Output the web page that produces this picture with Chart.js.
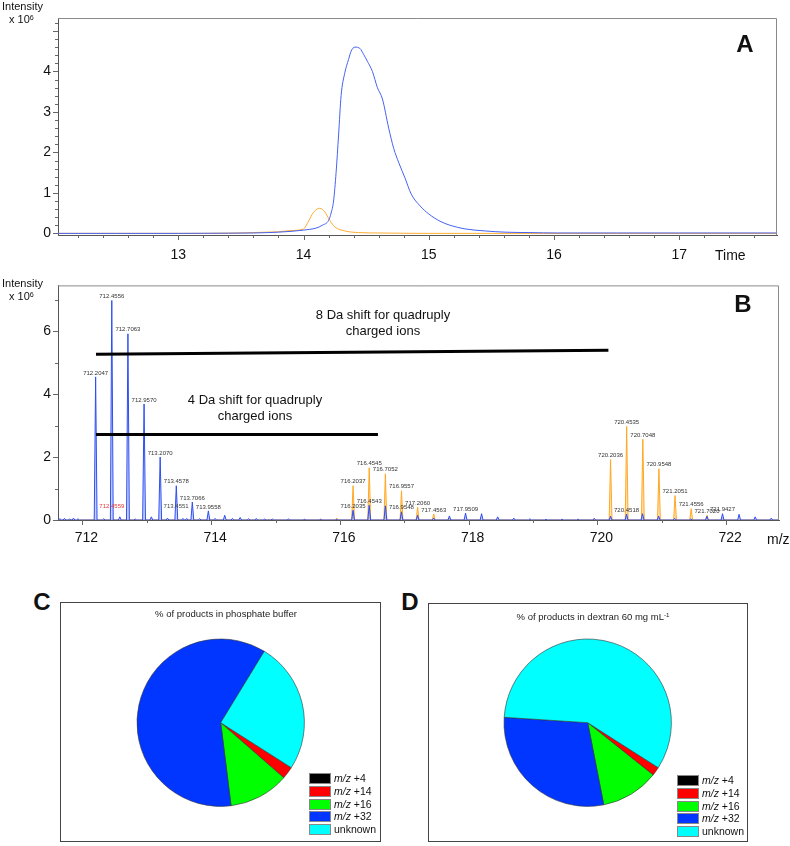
<!DOCTYPE html>
<html>
<head>
<meta charset="utf-8">
<script src="https://cdn.jsdelivr.net/npm/chart.js@4.4.1/dist/chart.umd.min.js"></script>
<style>
  body { margin: 0; background: #fff; width: 790px; height: 846px; position: relative; overflow: hidden;
         font-family: Arial, "Liberation Sans", sans-serif; color: #111; }
  canvas { position: absolute; }
  .t { position: absolute; white-space: nowrap; line-height: 1; transform: translate(0, -50%); }
  .c { transform: translate(-50%, -50%); text-align: center; }
  .panel { font-weight: bold; font-size: 24px; }
  .small { font-size: 11px; }
  .shift { font-size: 13px; line-height: 16px; }
  .frame { position: absolute; border: 1px solid #444; box-sizing: border-box; pointer-events: none; }
  .pietitle { font-size: 9.5px; color: #222; }
  .leg { position: absolute; font-size: 10.5px; color: #111; }
  .leg div { position: absolute; left: 0; width: 22px; height: 11px; border: 1px solid #888; box-sizing: border-box; }
  .leg span { position: absolute; left: 25px; line-height: 11px; white-space: nowrap; }
  sup { font-size: 65%; vertical-align: 0; position: relative; top: -0.45em; }
</style>
</head>
<body>
<canvas id="chrom" width="790" height="270" style="left:0;top:0"></canvas>
<canvas id="spec" width="790" height="290" style="left:0;top:270px"></canvas>
<canvas id="pieC" width="320" height="240" style="left:60px;top:602px"></canvas>
<canvas id="pieD" width="320" height="240" style="left:428px;top:602px"></canvas>

<div class="t small" style="left:2px;top:6px">Intensity</div>
<div class="t small" style="left:9px;top:20px">x 10<sup>6</sup></div>
<div class="t c panel" style="left:745px;top:44px">A</div>
<div class="t" style="left:715px;top:255px;font-size:14px">Time</div>

<div class="t small" style="left:2px;top:283px">Intensity</div>
<div class="t small" style="left:9px;top:297px">x 10<sup>6</sup></div>
<div class="t c panel" style="left:743px;top:304px">B</div>
<div class="t" style="left:767px;top:539px;font-size:14px">m/z</div>
<div class="t c shift" style="left:383px;top:323px">8 Da shift for quadruply<br>charged ions</div>
<div class="t c shift" style="left:255px;top:408px">4 Da shift for quadruply<br>charged ions</div>

<div class="t c panel" style="left:42px;top:602px">C</div>
<div class="frame" style="left:60px;top:602px;width:321px;height:240px"></div>
<div class="t c pietitle" style="left:226px;top:614px">% of products in phosphate buffer</div>
<div class="leg" id="legC" style="left:309px;top:773px"></div>

<div class="t c panel" style="left:410px;top:602px">D</div>
<div class="frame" style="left:428px;top:603px;width:320px;height:239px"></div>
<div class="t c pietitle" style="left:593px;top:617px">% of products in dextran 60 mg mL<sup>-1</sup></div>
<div class="leg" id="legD" style="left:677px;top:775px"></div>

<script>
// A: extracted ion chromatograms (time in min, intensity x 10^6)
const timeBlue = [12.04, 12.5, 13.0, 13.4, 13.6, 13.8, 13.9, 14.0, 14.05, 14.1, 14.15, 14.2, 14.22, 14.24, 14.26,
  14.28, 14.3, 14.33, 14.36, 14.38, 14.41, 14.45, 14.48, 14.51, 14.55, 14.59, 14.63, 14.68, 14.72, 14.76,
  14.81, 14.86, 14.93, 15.0, 15.09, 15.17, 15.29, 15.45, 15.61, 15.8, 16.03, 16.5, 17.0, 17.5, 17.78];
const intBlue = [0, 0, 0, 0.005, 0.01, 0.03, 0.05, 0.08, 0.1, 0.13, 0.2, 0.32, 0.5, 0.8, 1.5,
  2.43, 3.4, 3.97, 4.3, 4.5, 4.6, 4.57, 4.42, 4.25, 4.0, 3.6, 3.32, 2.6, 2.1, 1.75,
  1.37, 0.97, 0.68, 0.48, 0.3, 0.2, 0.11, 0.06, 0.03, 0.02, 0.01, 0.01, 0.01, 0.01, 0.01];
const timeOrange = [12.04, 13.0, 13.5, 13.7, 13.8, 13.9, 14.0, 14.04, 14.08, 14.13, 14.17, 14.21, 14.25, 14.33, 14.44, 14.6, 15.0, 17.78];
const intOrange = [0, 0, 0.01, 0.03, 0.04, 0.07, 0.11, 0.3, 0.52, 0.62, 0.53, 0.32, 0.16, 0.06, 0.02, 0.01, 0, 0];
const timeTicks = [13, 14, 15, 16, 17];
const intTicksA = [0, 1, 2, 3, 4];

// B: mass spectrum, peak m/z and height x 10^6
const mzBlue = [711.65, 711.72, 711.80, 711.86, 711.93, 712.2047, 712.33, 712.4556, 712.58, 712.7063,
  712.82, 712.9570, 713.07, 713.2070, 713.32, 713.4578, 713.56, 713.62, 713.7066, 713.82,
  713.9558, 714.06, 714.21, 714.33, 714.45, 714.58, 714.70, 714.83, 714.95, 715.2,
  715.45, 715.7, 715.95, 716.2035, 716.4543, 716.7052, 716.9548, 717.206, 717.456, 717.70,
  717.9509, 718.20, 718.45, 718.70, 718.95, 719.2, 719.45, 719.7, 719.95, 720.2036,
  720.4518, 720.70, 720.95, 721.20, 721.45, 721.70, 721.9427, 722.20, 722.45, 722.70];
const hBlue = [0.04, 0.05, 0.03, 0.06, 0.04, 4.55, 0.04, 6.98, 0.1, 5.92,
  0.03, 3.69, 0.1, 2.0, 0.06, 1.09, 0.05, 0.05, 0.57, 0.04,
  0.29, 0.05, 0.15, 0.05, 0.08, 0.04, 0.05, 0.03, 0.03, 0.03,
  0.02, 0.02, 0.02, 0.31, 0.47, 0.45, 0.26, 0.15, 0.06, 0.13,
  0.22, 0.2, 0.1, 0.06, 0.04, 0.02, 0.02, 0.02, 0.05, 0.12,
  0.19, 0.2, 0.12, 0.05, 0.03, 0.12, 0.2, 0.18, 0.1, 0.06];
const mzOrange = [714.9, 715.45, 715.7, 715.95, 716.2037, 716.4545, 716.7052, 716.9557, 717.2060, 717.4563,
  717.70, 719.2, 719.45, 719.7, 719.95, 720.2036, 720.4535, 720.7048, 720.9548, 721.2051,
  721.4556, 721.7020, 721.95];
const hOrange = [0.02, 0.02, 0.03, 0.06, 1.09, 1.66, 1.47, 0.93, 0.41, 0.19,
  0.05, 0.02, 0.03, 0.03, 0.06, 1.92, 2.98, 2.57, 1.63, 0.78,
  0.36, 0.15, 0.05];
const labelsBlue = ['712.2047', '712.4556', '712.7063', '712.9570', '713.2070', '713.4578', '713.7066', '713.9558',
  '716.2035', '716.4543', '716.9548', '717.9509', '720.4518', '721.9427'];
const labelsOrange = ['716.2037', '716.4545', '716.7052', '716.9557', '717.2060', '717.4563',
  '720.2036', '720.4535', '720.7048', '720.9548', '721.2051', '721.4556', '721.7020'];
const labelsOther = ['712.4559', '713.4551'];
const labelsOtherHeight = [0.3, 0.3];
const mzTicks = [712, 714, 716, 718, 720, 722];
const intTicksB = [0, 2, 4, 6];
// shift bars: [from m/z, to m/z, height at start, height at end]
const shift8 = [712.21, 720.17, 5.27, 5.4];
const shift4 = [712.21, 716.59, 2.72, 2.72];

// C, D: product distribution (%)
const productNames = ['m/z +4', 'm/z +14', 'm/z +16', 'm/z +32', 'unknown'];
const pctPhosphate = [0, 2.4, 11.6, 60.7, 25.3];
const pctDextran = [0, 1.7, 11.2, 29.1, 58.0];
const productColors = ['#000000', '#ff0000', '#00ff00', '#0036ff', '#00ffff'];

const font = { family: 'Arial, "Liberation Sans", sans-serif', size: 14 };

function frame(chart) {
  const { ctx, chartArea: a } = chart;
  ctx.save();
  ctx.strokeStyle = '#8a8a8a';
  ctx.lineWidth = 1;
  ctx.beginPath();
  ctx.moveTo(a.left, a.top + 0.5);
  ctx.lineTo(a.right - 0.5, a.top + 0.5);
  ctx.lineTo(a.right - 0.5, a.bottom);
  ctx.stroke();
  ctx.restore();
}

function tickMarks(chart, xStep, xMajor, yStep, yMajor) {
  const { ctx, scales: { x, y } } = chart;
  ctx.save();
  ctx.strokeStyle = '#666';
  ctx.lineWidth = 1;
  ctx.beginPath();
  const x0 = Math.ceil(x.min / xStep) * xStep;
  for (let v = x0; v <= x.max; v += xStep) {
    const px = Math.round(x.getPixelForValue(v)) + 0.5;
    const big = Math.abs(v / xMajor - Math.round(v / xMajor)) < 1e-6;
    ctx.moveTo(px, y.bottom);
    ctx.lineTo(px, y.bottom + (big ? 5 : 3));
  }
  const y0 = Math.ceil(y.min / yStep) * yStep;
  for (let v = y0; v <= y.max; v += yStep) {
    const py = Math.round(y.getPixelForValue(v)) + 0.5;
    const big = Math.abs(v / yMajor - Math.round(v / yMajor)) < 1e-6;
    ctx.moveTo(x.left, py);
    ctx.lineTo(x.left - (big ? 5 : 3), py);
  }
  ctx.stroke();
  ctx.restore();
}

function points(xs, ys) {
  return xs.map((v, i) => ({ x: v, y: ys[i] }));
}

function axes(xMin, xMax, xTicks, yMin, yMax, yTicks, xPad, yPad, xHeight, xLabelOffset) {
  return {
    x: {
      type: 'linear', min: xMin, max: xMax,
      grid: { display: false, drawTicks: false },
      border: { color: '#555', width: 1 },
      afterBuildTicks: s => { s.ticks = xTicks.map(v => ({ value: v })); },
      afterFit: s => { s.height = xHeight; },
      ticks: { font: font, color: '#111', padding: xPad, maxRotation: 0, labelOffset: xLabelOffset }
    },
    y: {
      min: yMin, max: yMax,
      grid: { display: false, drawTicks: false },
      border: { color: '#555', width: 1 },
      afterBuildTicks: s => { s.ticks = yTicks.map(v => ({ value: v })); },
      afterFit: s => { s.width = 58; },
      ticks: { font: font, color: '#111', padding: yPad }
    }
  };
}

// A
new Chart(document.getElementById('chrom'), {
  type: 'line',
  data: {
    datasets: [
      { data: points(timeBlue, intBlue), borderColor: '#4662f2', borderWidth: 1, cubicInterpolationMode: 'monotone' },
      { data: points(timeOrange, intOrange), borderColor: '#ffab2e', borderWidth: 1, cubicInterpolationMode: 'monotone' }
    ]
  },
  options: {
    responsive: false, animation: false,
    layout: { padding: { top: 18, right: 13, left: 0, bottom: 0 } },
    elements: { point: { radius: 0 } },
    plugins: { legend: { display: false }, tooltip: { enabled: false } },
    scales: axes(12.04, 17.78, timeTicks, -0.04, 5.32, intTicksA, 12, 7, 35, 0)
  },
  plugins: [{ id: 'deco', afterDraw: c => { frame(c); tickMarks(c, 0.2, 1, 0.2, 1); } }]
});

// B
function peakProfile(mz, h, lo, hi) {
  const pts = [{ x: lo, y: 0 }];
  mz.forEach((m, i) => {
    pts.push({ x: m - 0.022, y: 0 }, { x: m, y: h[i] }, { x: m + 0.022, y: 0 });
  });
  pts.push({ x: hi, y: 0 });
  return pts;
}

function nearestHeight(mz, h, value) {
  let best = 0;
  mz.forEach((m, i) => { if (Math.abs(m - value) < Math.abs(mz[best] - value)) best = i; });
  return h[best];
}

function peakLabels(chart) {
  const { ctx, scales: { x, y } } = chart;
  ctx.save();
  ctx.font = '6px Arial, "Liberation Sans", sans-serif';
  ctx.textAlign = 'center';
  ctx.textBaseline = 'bottom';
  const put = (text, height, color) => {
    ctx.fillStyle = color;
    ctx.fillText(text, x.getPixelForValue(parseFloat(text)), y.getPixelForValue(height) - 1);
  };
  labelsBlue.forEach(t => put(t, nearestHeight(mzBlue, hBlue, parseFloat(t)), '#333'));
  labelsOrange.forEach(t => put(t, nearestHeight(mzOrange, hOrange, parseFloat(t)), '#333'));
  labelsOther.forEach((t, i) => put(t, labelsOtherHeight[i], i === 0 ? '#e53935' : '#444'));

  ctx.strokeStyle = '#000';
  ctx.lineWidth = 3;
  ctx.beginPath();
  [shift8, shift4].forEach(s => {
    ctx.moveTo(x.getPixelForValue(s[0]), y.getPixelForValue(s[2]));
    ctx.lineTo(x.getPixelForValue(s[1]), y.getPixelForValue(s[3]));
  });
  ctx.stroke();
  ctx.restore();
}

new Chart(document.getElementById('spec'), {
  type: 'line',
  data: {
    datasets: [
      { data: peakProfile(mzBlue, hBlue, 711.62, 722.82), borderColor: '#2f4ff0', borderWidth: 1,
        fill: 'origin', backgroundColor: 'rgba(90,120,255,0.35)' },
      { data: peakProfile(mzOrange, hOrange, 711.62, 722.82), borderColor: '#ffa824', borderWidth: 1,
        fill: 'origin', backgroundColor: 'rgba(255,190,90,0.45)' }
    ]
  },
  options: {
    responsive: false, animation: false,
    layout: { padding: { top: 11, right: 11, left: 0, bottom: 0 } },
    elements: { point: { radius: 0 }, line: { tension: 0 } },
    plugins: { legend: { display: false }, tooltip: { enabled: false } },
    scales: axes(711.62, 722.82, mzTicks, 0, 7.46, intTicksB, 10, 7, 40, 4)
  },
  plugins: [{ id: 'deco', afterDraw: c => { frame(c); tickMarks(c, 1, 2, 1, 2); peakLabels(c); } }]
});

// C, D
function pie(id, values, pad) {
  new Chart(document.getElementById(id), {
    type: 'pie',
    data: {
      labels: productNames,
      datasets: [{ data: values, backgroundColor: productColors, borderColor: '#333', borderWidth: 0.6 }]
    },
    options: {
      responsive: false, animation: false, rotation: 122.5,
      layout: { padding: pad },
      plugins: { legend: { display: false }, tooltip: { enabled: false } }
    }
  });
}
pie('pieC', pctPhosphate, { left: 76.7, right: 75.3, top: 36.7, bottom: 35.3 });
pie('pieD', pctDextran, { left: 75.7, right: 76.3, top: 36.7, bottom: 35.3 });

function legend(id) {
  const box = document.getElementById(id);
  productNames.forEach((name, i) => {
    const sw = document.createElement('div');
    sw.style.top = (i * 12.8) + 'px';
    sw.style.background = productColors[i];
    const tx = document.createElement('span');
    tx.style.top = (i * 12.8) + 'px';
    if (name.startsWith('m/z')) {
      tx.innerHTML = '<i>m/z</i>' + name.slice(3);
    } else {
      tx.textContent = name;
    }
    box.appendChild(sw);
    box.appendChild(tx);
  });
}
legend('legC');
legend('legD');
</script>
</body>
</html>
